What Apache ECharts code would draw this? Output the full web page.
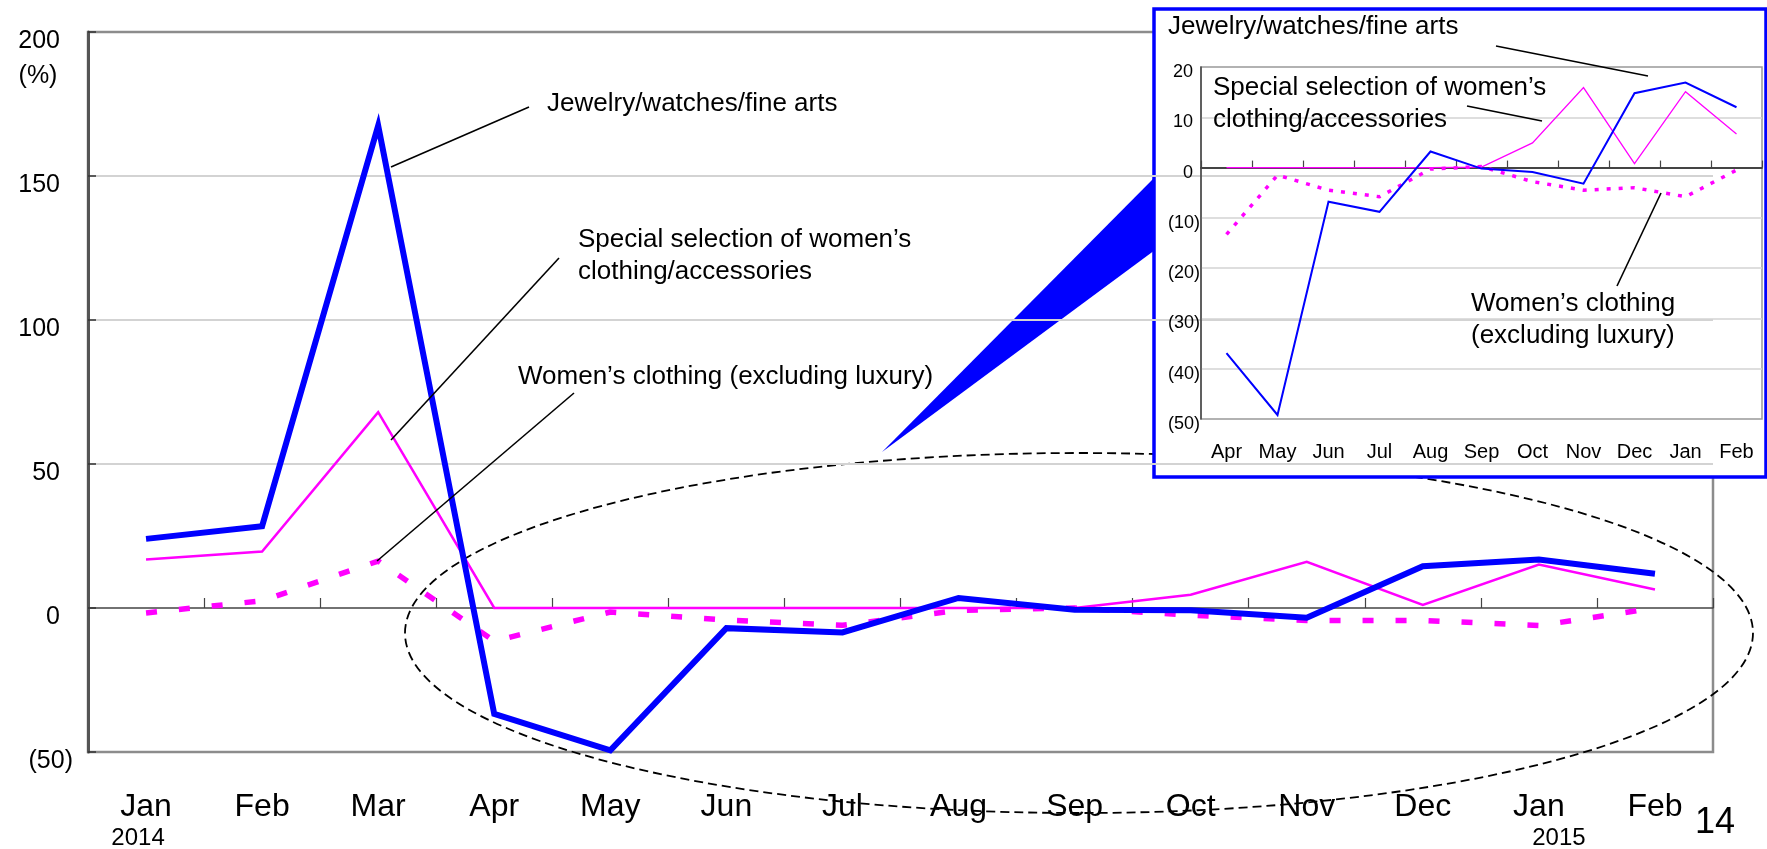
<!DOCTYPE html>
<html><head><meta charset="utf-8">
<script src="https://cdn.jsdelivr.net/npm/echarts@6/dist/echarts.min.js"></script>
<style>html,body{margin:0;padding:0;background:#fff}#c{width:1767px;height:849px}</style>
</head><body><div id="c"></div>
<script>
// ---- data ----
const months = ['Jan','Feb','Mar','Apr','May','Jun','Jul','Aug','Sep','Oct','Nov','Dec','Jan','Feb'];
const jewelry = [24, 28.4, 167.5, -36.8, -49.4, -7, -8.5, 3.5, -0.6, -0.8, -3.4, 14.5, 16.8, 11.9];
const specialSelection = [16.8, 19.6, 68, 0, 0, 0, 0, 0, 0, 4.6, 16, 1.1, 15.1, 6.4];
const womensClothing = [-1.7, 2.5, 16.3, -11.5, -1.4, -4.2, -6, -0.8, 0, -2.5, -4.3, -4.3, -6.1, 0];

const insetMonths = ['Apr','May','Jun','Jul','Aug','Sep','Oct','Nov','Dec','Jan','Feb'];
const insetJewelry = [-36.9, -49.2, -6.8, -8.8, 3.2, -0.2, -0.9, -3.2, 14.8, 16.9, 12.0];
const insetSpecial = [0, 0, 0, 0, 0, 0.1, 4.9, 15.9, 0.8, 15.1, 6.7];
const insetWomens = [-13.3, -1.5, -4.5, -5.8, -0.3, 0.2, -2.8, -4.5, -4.0, -5.8, -0.5];

const mainYMin = -50, mainYMax = 200, mainYStep = 50;
const insetYMin = -50, insetYMax = 20, insetYStep = 10;
const yearLabels = ['2014', '2015'];

const FONT = '"Liberation Sans", Arial, sans-serif';
const T = 'rgba(0,0,0,0)';
const G = '#d3d3d3';

function acct(v){ return v < 0 ? '(' + (-v) + ')' : '{p|' + v + '}'; }

const chart = echarts.init(document.getElementById('c'), null, {renderer:'canvas'});

function txt(text, x, y, size, align, z, lh){
  return {type:'text', x:x, y:y, z:z||12, silent:true,
    style:{text:text, fontSize:size, fontFamily:FONT, fill:'#000', align:align||'left', verticalAlign:'middle', lineHeight:lh||size}};
}
function ln(x1,y1,x2,y2,z){
  return {type:'line', z:z||12, silent:true, shape:{x1:x1,y1:y1,x2:x2,y2:y2}, style:{stroke:'#000', lineWidth:1.6}};
}

const option = {
  animation:false,
  backgroundColor:'#fff',
  grid:[
    {left:88, top:32, width:1625, height:720, show:true, borderColor:'#8c8c8c', borderWidth:2.5, backgroundColor:'transparent', z:0, outerBoundsMode:'none', containLabel:false},
    {left:1201, top:67, width:561, height:352, show:true, borderColor:'#999', borderWidth:1.5, backgroundColor:'transparent', z:10, outerBoundsMode:'none', containLabel:false}
  ],
  xAxis:[
    {type:'category', gridIndex:0, data:months, position:'bottom', z:0,
     axisLine:{show:false, onZero:false}, axisTick:{show:false}, splitLine:{show:false},
     axisLabel:{interval:0, fontSize:32, lineHeight:32, margin:39, color:'#000', fontFamily:FONT}},
    {type:'category', gridIndex:0, data:months, position:'bottom', z:0,
     axisLine:{show:true, onZero:true, lineStyle:{color:'#444', width:1.5}},
     axisTick:{show:true, inside:true, length:10, interval:0, lineStyle:{color:'#444', width:1.2}},
     axisLabel:{show:false}, splitLine:{show:false}},
    {type:'category', gridIndex:1, data:insetMonths, position:'bottom', z:10,
     axisLine:{show:false, onZero:false}, axisTick:{show:false}, splitLine:{show:false},
     axisLabel:{interval:0, fontSize:20, lineHeight:20, margin:23, color:'#000', fontFamily:FONT}},
    {type:'category', gridIndex:1, data:insetMonths, position:'bottom', z:10,
     axisLine:{show:true, onZero:true, lineStyle:{color:'#444', width:1.8}},
     axisTick:{show:true, inside:true, length:7, interval:0, lineStyle:{color:'#444', width:1.2}},
     axisLabel:{show:false}, splitLine:{show:false}}
  ],
  yAxis:[
    {type:'value', gridIndex:0, min:mainYMin, max:mainYMax, interval:mainYStep, z:4,
     axisLine:{show:true, onZero:false, lineStyle:{color:'#555', width:3}},
     axisTick:{show:true, inside:true, length:8, lineStyle:{color:'#333', width:1.5}},
     splitLine:{show:true, lineStyle:{color:[T,T,G,G,G,T], width:2}},
     axisLabel:{margin:15, padding:[18,0,0,0], fontSize:25, color:'#000', fontFamily:FONT, formatter:acct,
       rich:{p:{fontSize:25, color:'#000', fontFamily:FONT, padding:[0,13,0,0]}}}},
    {type:'value', gridIndex:1, min:insetYMin, max:insetYMax, interval:insetYStep, z:10,
     axisLine:{show:true, onZero:false, lineStyle:{color:'#444', width:1.5}},
     axisTick:{show:false},
     splitLine:{show:true, lineStyle:{color:[T,G,G,G,G,T,G,T], width:1.5}},
     axisLabel:{margin:1, padding:[10,0,0,0], fontSize:18, color:'#000', fontFamily:FONT, formatter:acct,
       rich:{p:{fontSize:18, color:'#000', fontFamily:FONT, padding:[0,7,0,0]}}}}
  ],
  series:[
    {name:'Women’s clothing (excluding luxury)', type:'line', xAxisIndex:0, yAxisIndex:0, data:womensClothing, symbol:'none', silent:true, z:5,
     lineStyle:{color:'#ff00ff', width:5.5, type:[11,22], cap:'butt'}},
    {name:'Special selection of women’s clothing/accessories', type:'line', xAxisIndex:0, yAxisIndex:0, data:specialSelection, symbol:'none', silent:true, z:5,
     lineStyle:{color:'#ff00ff', width:2.5, join:'miter', miterLimit:30}},
    {name:'Jewelry/watches/fine arts', type:'line', xAxisIndex:0, yAxisIndex:0, data:jewelry, symbol:'none', silent:true, z:5,
     lineStyle:{color:'#0000ff', width:6, join:'miter', miterLimit:30}},
    {name:'inset women', type:'line', xAxisIndex:2, yAxisIndex:1, data:insetWomens, symbol:'none', silent:true, z:11,
     lineStyle:{color:'#ff00ff', width:3.5, type:[4,8], cap:'butt'}},
    {name:'inset special', type:'line', xAxisIndex:2, yAxisIndex:1, data:insetSpecial, symbol:'none', silent:true, z:11,
     lineStyle:{color:'#ff00ff', width:1.3, join:'miter'}},
    {name:'inset jewelry', type:'line', xAxisIndex:2, yAxisIndex:1, data:insetJewelry, symbol:'none', silent:true, z:11,
     lineStyle:{color:'#0000ff', width:2, join:'miter'}}
  ]
};
chart.setOption(option);

// year labels placed under the first and the second "Jan"
const p2014 = chart.convertToPixel({xAxisIndex:0, yAxisIndex:0}, [0, 0]);
const p2015 = chart.convertToPixel({xAxisIndex:0, yAxisIndex:0}, [12, 0]);

chart.setOption({
  graphic:{elements:[
    {type:'ellipse', z:1, silent:true, shape:{cx:1079, cy:633, rx:674, ry:180},
     style:{fill:'none', stroke:'#000', lineWidth:1.8, lineDash:[9,5]}},
    {type:'polygon', z:2, silent:true, shape:{points:[[882,452],[1155,177],[1155,250]]}, style:{fill:'#0000ff'}},
    {type:'rect', z:3, silent:true, shape:{x:1154, y:9, width:612, height:468},
     style:{fill:'#fff', stroke:'#0000ff', lineWidth:3.5}},
    // main annotations
    txt('Jewelry/watches/fine arts', 547, 104, 26),
    ln(391,167,529,107),
    txt('Special selection of women’s\nclothing/accessories', 578, 256, 26, 'left', 12, 32),
    ln(391,440,559,258),
    txt('Women’s clothing (excluding luxury)', 518, 377, 26),
    ln(377,561,574,393),
    // inset annotations
    txt('Jewelry/watches/fine arts', 1168, 27, 26),
    ln(1496,46,1648,76),
    txt('Special selection of women’s\nclothing/accessories', 1213, 104, 26, 'left', 12, 32),
    ln(1467,106,1542,121),
    txt('Women’s clothing\n(excluding luxury)', 1471, 320, 26, 'left', 12, 32),
    ln(1661,193,1617,286),
    // axis extras
    txt('(%)', 38, 76, 25, 'center'),
    txt(yearLabels[0], p2014[0] - 8, 838, 24, 'center'),
    txt(yearLabels[1], p2015[0] + 20, 838, 24, 'center'),
    txt('14', 1715, 823, 36, 'center')
  ]}
});
</script>
</body></html>
